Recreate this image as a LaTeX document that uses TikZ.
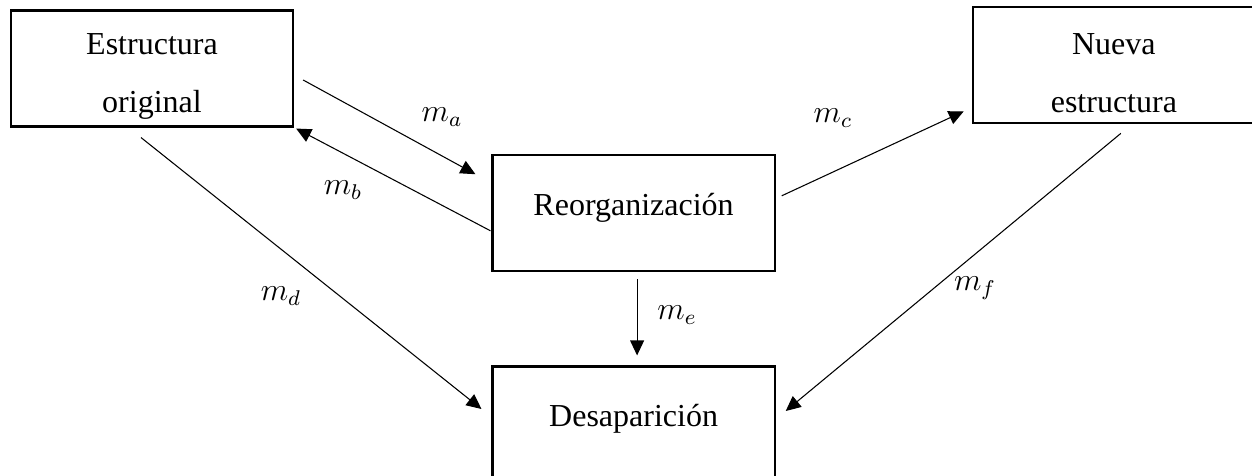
\documentclass[tikz,border=0pt]{standalone}
\usepackage{fontspec}
\setmainfont{Liberation Serif}
\usetikzlibrary{arrows.meta,positioning}

\begin{document}
\begin{tikzpicture}[x=0.375pt,y=-0.375pt,
box/.style={draw,line width=0.8pt,minimum width=105.8pt,minimum height=43.5pt,align=center,inner sep=0pt,font=\fontsize{12}{21.7}\selectfont},
twobox/.style={box,text height=35.4pt},
onebox/.style={box,text depth=7pt},
lbl/.style={font=\fontsize{12}{14}\selectfont},
arr/.style={-{Triangle[length=5.6pt,width=5.2pt]},line width=0.4pt}]
\useasboundingbox (0,0) rectangle (1252,476);
\clip (0,0) rectangle (1252,476);
\node[twobox] (orig) at (152,68.5) {Estructura\\original};
\node[onebox,below right=10pt and 74pt of orig] (reorg) {Reorganización};
\node[twobox,above right=11.2pt and 73.5pt of reorg] (nueva) {Nueva\\estructura};
\node[onebox,below=34.9pt of reorg] (desap) {Desaparición};
\node[lbl] (ma) at (442,117) {$m_a$};
\node[lbl] (mb) at (343,190) {$m_b$};
\node[lbl] (mc) at (833,118) {$m_c$};
\node[lbl] (md) at (281,296) {$m_d$};
\node[lbl] (me) at (677,315) {$m_e$};
\node[lbl] (mf) at (975,288) {$m_f$};
\draw[arr]([shift={(9,11.5)}]orig.east)--([shift={(-16,20)}]reorg.north west);\draw[arr]([shift={(-1,17.5)}]reorg.west)--([shift={(2,1)}]orig.south east);
\draw[arr]([shift={(6,-17.5)}]reorg.east)--([shift={(-8,-13)}]nueva.south west);\draw[arr]([shift={(-11,10)}]orig.south)--([shift={(-10,-15.5)}]desap.west);
\draw[arr]([shift={(3.5,7)}]reorg.south)--([shift={(3.5,-10)}]desap.north);\draw[arr]([shift={(7,9)}]nueva.south)--([shift={(10,-13.5)}]desap.east);
\end{tikzpicture}
\end{document}
